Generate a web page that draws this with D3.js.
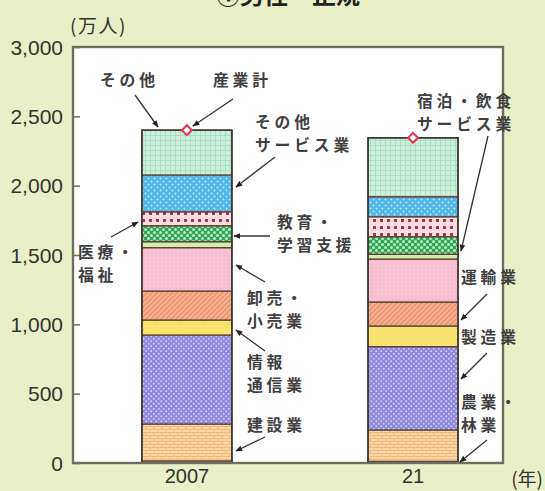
<!DOCTYPE html>
<html><head><meta charset="utf-8">
<script src="https://cdn.jsdelivr.net/npm/d3@7/dist/d3.min.js"></script>
<style>body{margin:0;background:#e9f0c8}svg{display:block}</style>
</head><body>
<script>
// ---- data ----
const years = ["2007", "21"];
const industries = ["農業・林業","建設業","製造業","情報通信業","運輸業","卸売・小売業","宿泊・飲食サービス業","教育・学習支援","医療・福祉","その他サービス業","その他"];
const values2007 = [15, 266, 642, 108, 209, 313, 43, 115, 101, 265, 323];
const values2021 = [12, 226, 601, 149, 173, 310, 34, 127, 144, 144, 425];
const totals = [2400, 2345];
const yTicks = [0, 500, 1000, 1500, 2000, 2500, 3000];

const W = 545, H = 491;
const svg = d3.select("body").append("svg").attr("width", W).attr("height", H);
const defs = svg.append("defs");

function pattern(id, w, h, bg, fn) {
  const p = defs.append("pattern").attr("id", id).attr("patternUnits", "userSpaceOnUse").attr("width", w).attr("height", h);
  p.append("rect").attr("width", w).attr("height", h).attr("fill", bg);
  if (fn) fn(p);
}
pattern("p0", 4, 4, "#bba878");
pattern("p1", 8, 6, "#fdd9a8", p => {
  p.append("path").attr("d", "M0 0.5H8M0 3.5H8M2 0V3M6 3V6").attr("stroke", "#f0b676").attr("stroke-width", 0.9);
});
pattern("p2", 5, 5, "#8e87dd", p => {
  p.append("circle").attr("cx", 1.25).attr("cy", 1.25).attr("r", 0.95).attr("fill", "#d4d0f7");
  p.append("circle").attr("cx", 3.75).attr("cy", 3.75).attr("r", 0.95).attr("fill", "#d4d0f7");
});
pattern("p3", 6, 6, "#f5e36c", p => {
  p.append("circle").attr("cx", 3).attr("cy", 3).attr("r", 0.6).attr("fill", "#fbf0b0");
});
pattern("p4", 5, 5, "#f7b08c", p => {
  p.append("path").attr("d", "M0 5L5 0M-1 1L1 -1M4 6L6 4").attr("stroke", "#e5896a").attr("stroke-width", 1.1);
});
pattern("p5", 4, 4, "#f8bdd0", p => {
  p.append("circle").attr("cx", 2).attr("cy", 2).attr("r", 0.6).attr("fill", "#fde3eb");
});
pattern("p6", 4, 4, "#d5ebae");
pattern("p7", 6, 6, "#35a558", p => {
  p.append("circle").attr("cx", 1.5).attr("cy", 1.5).attr("r", 1.5).attr("fill", "#b8eec4");
  p.append("circle").attr("cx", 4.5).attr("cy", 4.5).attr("r", 1.5).attr("fill", "#b8eec4");
});
pattern("p8", 7, 7, "#f9dbe1", p => {
  p.append("rect").attr("x", 2).attr("y", 2).attr("width", 3).attr("height", 3).attr("fill", "#9b3b4e");
});
pattern("p9", 6, 6, "#52b7e7", p => {
  p.append("circle").attr("cx", 1.5).attr("cy", 1.5).attr("r", 0.9).attr("fill", "#c4e9fb");
  p.append("circle").attr("cx", 4.5).attr("cy", 4.5).attr("r", 0.9).attr("fill", "#c4e9fb");
});
pattern("p10", 5, 5, "#cdefdc", p => {
  p.append("path").attr("d", "M0 0.5H5M0.5 0V5").attr("stroke", "#a3dabb").attr("stroke-width", 0.8);
});

// ---- scales ----
const y = d3.scaleLinear().domain([0, 3000]).range([463, 47]);
const x = d3.scaleBand().domain(years).range([73, 503]).paddingInner(0.602).paddingOuter(0.252).align(0.605);

// plot area
svg.append("rect").attr("x", 73).attr("y", 47).attr("width", 430).attr("height", 416).attr("fill", "#ffffff");

// title (cut off at top)
svg.append("text").attr("x", 288).attr("y", 4).attr("text-anchor", "middle")
  .attr("font-family", "Noto Sans CJK JP").attr("font-weight", 700).attr("font-size", 24).attr("fill", "#222")
  .text("①男性・正規");

// stacked data
const series = [values2007, values2021];
const stacks = years.map((yr, i) => {
  let acc = 0;
  return industries.map((name, k) => {
    const v = series[i][k];
    const d = { year: yr, name, k, y0: acc, y1: acc + v };
    acc += v;
    return d;
  });
});

const bars = svg.append("g");
stacks.forEach(segs => {
  bars.selectAll(null).data(segs).enter().append("rect")
    .attr("x", d => x(d.year))
    .attr("width", x.bandwidth())
    .attr("y", d => y(d.y1))
    .attr("height", d => y(d.y0) - y(d.y1))
    .attr("fill", d => `url(#p${d.k})`)
    .attr("stroke", "#5b4434").attr("stroke-width", 1.3);
});
// bar outlines
bars.selectAll(null).data(years).enter().append("rect")
  .attr("x", d => x(d)).attr("width", x.bandwidth())
  .attr("y", (d, i) => y(d3.sum(series[i])))
  .attr("height", (d, i) => y(0) - y(d3.sum(series[i])))
  .attr("fill", "none").attr("stroke", "#3a3a32").attr("stroke-width", 1.6);

// total markers
svg.selectAll(null).data(years).enter().append("path")
  .attr("transform", (d, i) => `translate(${x(d) + x.bandwidth() / 2},${y(totals[i])}) rotate(45)`)
  .attr("d", "M-3.5 -3.5H3.5V3.5H-3.5Z")
  .attr("fill", "#fff").attr("stroke", "#e0344f").attr("stroke-width", 2);

// frame
svg.append("rect").attr("x", 73).attr("y", 47).attr("width", 430).attr("height", 416)
  .attr("fill", "none").attr("stroke", "#6e6e5e").attr("stroke-width", 2.4);

// y axis (ticks inside)
const yAxis = d3.axisLeft(y).tickValues(yTicks).tickSize(-7).tickPadding(10).tickFormat(d3.format(","));
const ga = svg.append("g").attr("transform", "translate(73,0)").call(yAxis);
ga.select(".domain").remove();
ga.selectAll(".tick line").attr("stroke", "#6e6e5e").attr("stroke-width", 1.5);
ga.selectAll(".tick text").attr("font-family", "Liberation Sans, Arial, sans-serif").attr("font-size", 21).attr("fill", "#333").attr("dy", "0.34em");

// x labels
const xAxis = d3.axisBottom(x).tickSize(0).tickPadding(6);
const gx = svg.append("g").attr("transform", "translate(0,463)").call(xAxis);
gx.select(".domain").remove();
gx.selectAll(".tick text").attr("font-family", "Liberation Sans, Arial, sans-serif").attr("font-size", 20).attr("fill", "#333").attr("dy", "0.72em");

svg.append("text").attr("x", 70).attr("y", 33).attr("font-family", "Noto Sans CJK JP").attr("font-size", 19).attr("letter-spacing", 1.5).attr("fill", "#333").text("(万人)");
svg.append("text").attr("x", 543).attr("y", 486).attr("text-anchor", "end").attr("font-family", "Noto Sans CJK JP").attr("font-size", 19).attr("fill", "#333").text("(年)");

// annotations
defs.append("marker").attr("id", "arr").attr("viewBox", "0 0 10 10").attr("refX", 9).attr("refY", 5)
  .attr("markerWidth", 7).attr("markerHeight", 7).attr("orient", "auto").attr("markerUnits", "userSpaceOnUse")
  .append("path").attr("d", "M0 1L10 5L0 9Z").attr("fill", "#222");

const notes = [
  { lines: ["その他"], x: 100, y: 86, from: [135, 95], to: [158, 127] },
  { lines: ["産業計"], x: 213, y: 86, from: [233, 99], to: [193, 126] },
  { lines: ["その他", "サービス業"], x: 255, y: 128, from: [275, 157], to: [236, 187] },
  { lines: ["教育・", "学習支援"], x: 277, y: 228, from: [270, 236], to: [234, 236] },
  { lines: ["医療・", "福祉"], x: 78, y: 258, from: [111, 237], to: [138, 222] },
  { lines: ["卸売・", "小売業"], x: 247, y: 304, from: [265, 282], to: [236, 265] },
  { lines: ["情報", "通信業"], x: 247, y: 368, from: [265, 351], to: [236, 330] },
  { lines: ["建設業"], x: 247, y: 431, from: [265, 437], to: [236, 451] },
  { lines: ["宿泊・飲食", "サービス業"], x: 417, y: 107, from: [488, 136], to: [461, 251] },
  { lines: ["運輸業"], x: 461, y: 283, from: [487, 294], to: [461, 320] },
  { lines: ["製造業"], x: 461, y: 343, from: [487, 353], to: [461, 379] },
  { lines: ["農業・", "林業"], x: 461, y: 408, from: [487, 440], to: [460, 462] }
];
const gn = svg.append("g");
notes.forEach(n => {
  n.lines.forEach((l, i) => {
    gn.append("text").attr("x", n.x).attr("y", n.y + i * 23)
      .attr("font-family", "Noto Sans CJK JP").attr("font-weight", 700).attr("font-size", 15.8)
      .attr("letter-spacing", 3.8).attr("fill", "#404040").text(l);
  });
  gn.append("line").attr("x1", n.from[0]).attr("y1", n.from[1]).attr("x2", n.to[0]).attr("y2", n.to[1])
    .attr("stroke", "#333").attr("stroke-width", 1.3).attr("marker-end", "url(#arr)");
});
</script>
</body></html>
